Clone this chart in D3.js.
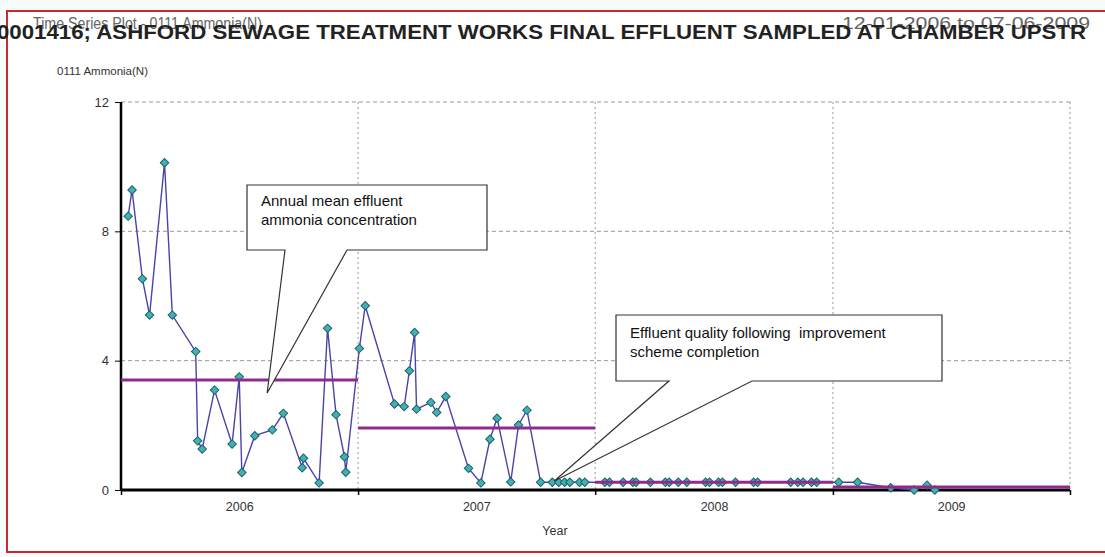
<!DOCTYPE html>
<html>
<head>
<meta charset="utf-8">
<script src="https://cdnjs.cloudflare.com/ajax/libs/d3/7.8.5/d3.min.js"></script>
<style>
body { margin: 0; background: #fff; }
text { font-family: "Liberation Sans", Arial, sans-serif; }
</style>
</head>
<body>
<script>
// Width and height
var w = 1105;
var h = 557;
var plotL = 121, plotR = 1070, plotT = 102, plotB = 490;

// sample dates and ammonia values
var sampleDates = [
  "2006-01-12","2006-01-18","2006-02-03","2006-02-14","2006-03-09","2006-03-21",
  "2006-04-26","2006-04-29","2006-05-06","2006-05-25","2006-06-21","2006-07-02",
  "2006-07-06","2006-07-26","2006-08-22","2006-09-08","2006-10-07","2006-10-09",
  "2006-11-02","2006-11-15","2006-11-28","2006-12-11","2006-12-13",
  "2007-01-03","2007-01-12","2007-02-26","2007-03-13","2007-03-21","2007-03-29",
  "2007-04-01","2007-04-23","2007-05-02","2007-05-16","2007-06-20","2007-07-09",
  "2007-07-23","2007-08-03","2007-08-24","2007-09-05","2007-09-18","2007-10-09",
  "2007-10-27","2007-11-06","2007-11-15","2007-11-23","2007-12-08","2007-12-16",
  "2008-01-16","2008-01-23","2008-02-13","2008-02-28","2008-03-04","2008-03-26",
  "2008-04-18","2008-04-24","2008-05-08","2008-05-21","2008-06-19","2008-06-25",
  "2008-07-09","2008-07-15","2008-08-04","2008-09-01","2008-09-07","2008-10-28",
  "2008-11-08","2008-11-16","2008-11-29","2008-12-07",
  "2009-01-10","2009-02-08","2009-03-31","2009-05-06","2009-05-26","2009-06-07"
];
var ammonia = [
  8.47, 9.28, 6.53, 5.41, 10.12, 5.41,
  4.28, 1.52, 1.27, 3.09, 1.42, 3.50,
  0.54, 1.68, 1.86, 2.37, 0.69, 0.98,
  0.22, 5.00, 2.33, 1.03, 0.55,
  4.38, 5.70, 2.66, 2.58, 3.69, 4.87,
  2.50, 2.71, 2.40, 2.89, 0.67, 0.22,
  1.57, 2.22, 0.25, 2.01, 2.47, 0.24,
  0.24, 0.24, 0.24, 0.24, 0.24, 0.24,
  0.24, 0.24, 0.24, 0.24, 0.24, 0.24,
  0.24, 0.24, 0.24, 0.24, 0.24, 0.24,
  0.24, 0.24, 0.24, 0.24, 0.24, 0.24,
  0.24, 0.24, 0.24, 0.24,
  0.24, 0.24, 0.07, 0.00, 0.15, 0.00
];

// annual means
var meanYears = [2006, 2007, 2008, 2009];
var annualMean = [3.40, 1.92, 0.24, 0.09];

var yTicks = [0, 4, 8, 12];
var yearTicks = [2006, 2007, 2008, 2009, 2010];
var yearLabels = ["2006", "2007", "2008", "2009"];

var parse = d3.timeParse("%Y-%m-%d");
var data = sampleDates.map(function(d, i) {
  return { date: parse(d), value: ammonia[i] };
});

var x = d3.scaleTime()
  .domain([new Date(2006, 0, 1), new Date(2010, 0, 1)])
  .range([plotL, plotR]);
var y = d3.scaleLinear()
  .domain([0, 12])
  .range([plotB, plotT]);

//Create SVG element
var svg = d3.select("body")
  .append("svg")
  .attr("width", w)
  .attr("height", h);

// page frame
svg.append("rect").attr("x", 0).attr("y", 0).attr("width", w).attr("height", h).attr("fill", "#f6fbfb");
svg.append("rect")
  .attr("x", 7).attr("y", 11)
  .attr("width", w).attr("height", 541)
  .attr("fill", "#fff")
  .attr("stroke", "#cc2a2a")
  .attr("stroke-width", 2);

// headings (they overlap in the original too)
svg.append("text")
  .attr("x", 33).attr("y", 29)
  .attr("font-size", "16px")
  .attr("fill", "#666")
  .attr("textLength", 229)
  .attr("lengthAdjust", "spacingAndGlyphs")
  .text("Time Series Plot - 0111 Ammonia(N)");
svg.append("text")
  .attr("x", 842).attr("y", 29)
  .attr("font-size", "16px")
  .attr("fill", "#666")
  .attr("textLength", 248)
  .attr("lengthAdjust", "spacingAndGlyphs")
  .text("12-01-2006 to 07-06-2009");
svg.append("text")
  .attr("x", -3).attr("y", 39)
  .attr("font-size", "20px")
  .attr("font-weight", "bold")
  .attr("fill", "#222")
  .attr("textLength", 1089)
  .attr("lengthAdjust", "spacingAndGlyphs")
  .text("0001416; ASHFORD SEWAGE TREATMENT WORKS FINAL EFFLUENT SAMPLED AT CHAMBER UPSTR");
svg.append("text")
  .attr("x", 57).attr("y", 75)
  .attr("font-size", "11.5px")
  .attr("fill", "#333")
  .text("0111 Ammonia(N)");

// grid
svg.selectAll("line.hgrid")
  .data(yTicks.filter(function(d) { return d > 0; }))
  .enter()
  .append("line")
  .attr("class", "hgrid")
  .attr("x1", plotL).attr("x2", plotR)
  .attr("y1", function(d) { return y(d); })
  .attr("y2", function(d) { return y(d); })
  .attr("stroke", "#9a9a9a")
  .attr("stroke-dasharray", "4,3");
svg.selectAll("line.vgrid")
  .data(yearTicks.slice(1))
  .enter()
  .append("line")
  .attr("class", "vgrid")
  .attr("x1", function(d) { return x(new Date(d, 0, 1)); })
  .attr("x2", function(d) { return x(new Date(d, 0, 1)); })
  .attr("y1", plotT).attr("y2", plotB)
  .attr("stroke", "#9a9a9a")
  .attr("stroke-dasharray", "2,3");

// axes
var yAxis = svg.append("g")
  .attr("transform", "translate(" + plotL + ",0)")
  .call(d3.axisLeft(y).tickValues(yTicks).tickSize(6).tickPadding(6));
yAxis.select(".domain").attr("stroke-width", 2.5).attr("d", "M0," + plotB + "V" + plotT);
yAxis.selectAll("text").attr("font-size", "13px").attr("fill", "#333");

var xAxis = svg.append("g")
  .attr("transform", "translate(0," + plotB + ")")
  .call(d3.axisBottom(x)
    .tickValues(yearTicks.map(function(d) { return new Date(d, 0, 1); }))
    .tickSize(5)
    .tickFormat(""));
xAxis.select(".domain").attr("stroke-width", 3).attr("d", "M" + plotL + ",0H" + plotR);
xAxis.selectAll(".tick line").attr("stroke-width", 1.5);

var xLabels = svg.append("g")
  .attr("transform", "translate(0," + plotB + ")")
  .call(d3.axisBottom(x)
    .tickValues(yearLabels.map(function(d) { return new Date(+d, 6, 2); }))
    .tickSize(0)
    .tickPadding(12)
    .tickFormat(function(d, i) { return yearLabels[i]; }));
xLabels.select(".domain").remove();
xLabels.selectAll("text").attr("font-size", "12.5px").attr("fill", "#333");

svg.append("text")
  .attr("x", 555).attr("y", 535)
  .attr("text-anchor", "middle")
  .attr("font-size", "12.5px")
  .attr("fill", "#333")
  .text("Year");

// series line
var line = d3.line()
  .x(function(d) { return x(d.date); })
  .y(function(d) { return y(d.value); });
svg.append("path")
  .datum(data)
  .attr("d", line)
  .attr("fill", "none")
  .attr("stroke", "#4a44a8")
  .attr("stroke-width", 1.4);

// markers
svg.selectAll("path.pt")
  .data(data)
  .enter()
  .append("path")
  .attr("class", "pt")
  .attr("d", d3.symbol(d3.symbolSquare, 36))
  .attr("transform", function(d) {
    return "translate(" + x(d.date) + "," + y(d.value) + ") rotate(45)";
  })
  .attr("fill", "#3fb3b3")
  .attr("stroke", "#1f5f66")
  .attr("stroke-width", 1);

// annual mean lines
svg.selectAll("line.mean")
  .data(meanYears)
  .enter()
  .append("line")
  .attr("class", "mean")
  .attr("x1", function(d) { return x(new Date(d, 0, 1)); })
  .attr("x2", function(d) { return x(new Date(d + 1, 0, 1)); })
  .attr("y1", function(d, i) { return y(annualMean[i]); })
  .attr("y2", function(d, i) { return y(annualMean[i]); })
  .attr("stroke", "#8e2b8e")
  .attr("stroke-width", 3);

// callouts
function callout(box, baseL, baseR, tip, lines, dy) {
  var p = "M" + box[0] + "," + box[1] +
    "H" + box[2] + "V" + box[3] +
    "H" + baseR + "L" + tip[0] + "," + tip[1] +
    "L" + baseL + "," + box[3] +
    "H" + box[0] + "Z";
  svg.append("path")
    .attr("d", p)
    .attr("fill", "#fff")
    .attr("stroke", "#333")
    .attr("stroke-width", 1.2);
  svg.selectAll(null)
    .data(lines)
    .enter()
    .append("text")
    .attr("x", box[0] + 14)
    .attr("y", function(d, i) { return box[1] + dy + i * 19; })
    .attr("font-size", "15px")
    .attr("fill", "#111")
    .style("white-space", "pre")
    .text(function(d) { return d; });
}
callout([247, 185, 487, 250], 285, 347,
  [x(new Date(2006, 7, 14)), y(3.0)],
  ["Annual mean effluent", "ammonia concentration"], 21);
callout([616, 315, 942, 381], 669, 752,
  [x(new Date(2007, 9, 30)), y(0.28)],
  ["Effluent quality following  improvement", "scheme completion"], 23);
</script>
</body>
</html>
